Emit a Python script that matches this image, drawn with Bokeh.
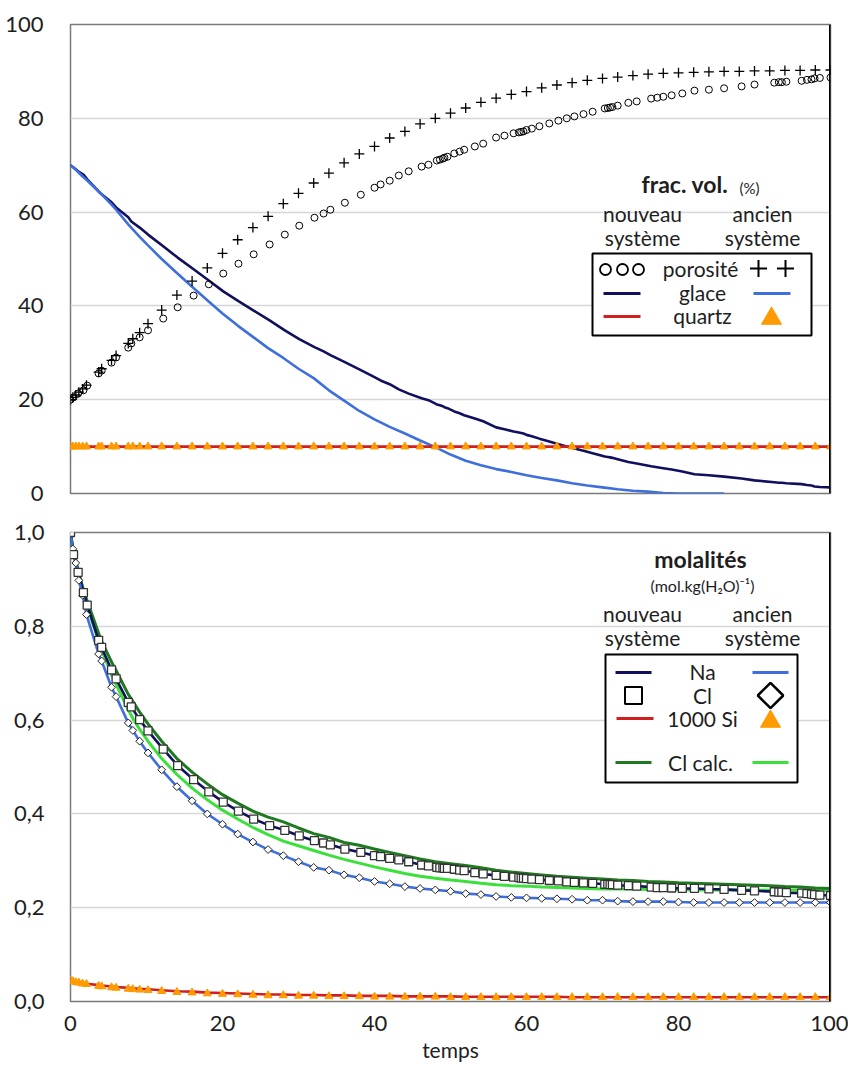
import math
from bokeh.plotting import figure
from bokeh.layouts import column
from bokeh.models import Label, Span, FixedTicker, Range1d
from bokeh.embed import file_html
from bokeh.resources import INLINE

FONT = "Lato"
NAN = float("nan")

# ---------------- data : top panel (volume fractions, %) ----------------
t_old = [0, 0.3, 0.7, 1.1, 1.6, 2.1, 3.7, 4.1, 5.4, 6.0, 7.6, 8.2, 9.1, 10.2,
         12, 14, 16, 18, 20, 22, 24, 26, 28, 30, 32, 34, 36, 38, 40, 42, 44, 46, 48, 50,
         52, 54, 56, 58, 60, 62, 64, 66, 68, 70, 72, 74, 76, 78, 80, 82, 84, 86, 88, 90,
         92, 94, 96, 98, 100]
porosite_old = [20.0, 20.5, 21.0, 21.6, 22.3, 23.1, 25.9, 26.6, 28.4, 29.4, 32.0, 33.0, 34.3, 36.2,
                39.1, 42.3, 45.3, 48.1, 51.2, 54.1, 56.7, 59.1, 61.8, 64.0, 66.2, 68.3, 70.5, 72.4,
                74.0, 75.8, 77.2, 78.8, 80.0, 81.1, 82.2, 83.4, 84.3, 85.1, 85.7, 86.5, 87.1, 87.6,
                88.1, 88.5, 88.8, 89.1, 89.4, 89.6, 89.7, 89.8, 89.9, 90.0, 90.0, 90.1, 90.1, 90.2,
                90.2, 90.3, 90.3]
glace_old = [70.0, 69.6, 69.0, 68.4, 67.6, 66.9, 64.4, 63.8, 61.6, 60.5, 57.4, 56.3, 54.7, 52.9,
             50.0, 47.0, 44.1, 41.2, 38.4, 35.8, 33.4, 31.0, 28.9, 26.6, 24.6, 22.0, 19.8, 17.6,
             15.8, 14.2, 12.8, 11.3, 9.9, 8.3, 7.0, 6.0, 5.2, 4.6, 3.9, 3.3, 2.8, 2.2,
             1.7, 1.3, 0.9, 0.6, 0.4, 0.1, 0.0, 0.0, 0.0, 0.0, NAN, NAN, NAN, NAN,
             NAN, NAN, NAN]
quartz_old = [10.0, 10.0, 10.0, 10.0, 10.0, 10.0, 10.0, 10.0, 10.0, 10.0, 10.0, 10.0, 10.0, 10.0,
              10.0, 10.0, 10.0, 10.0, 10.0, 10.0, 10.0, 10.0, 10.0, 10.0, 10.0, 10.0, 10.0, 10.0,
              10.0, 10.0, 10.0, 10.0, 10.0, 10.0, 10.0, 10.0, 10.0, 10.0, 10.0, 10.0, 10.0, 10.0,
              10.0, 10.0, 10.0, 10.0, 10.0, 10.0, 10.0, 10.0, 10.0, 10.0, 10.0, 10.0, 10.0, 10.0,
              10.0, 10.0, 10.0]

t_new = [0, 0.4, 1.0, 1.7, 2.2, 3.7, 4.1, 5.4, 6.0, 7.6,
         8.0, 9.1, 10.2, 12.2, 14.1, 16.2, 18.2, 20.1, 22.1, 24.1,
         26.2, 28.2, 30.1, 32.1, 33.3, 34.2, 36.1, 38.2, 40.0, 40.8,
         42.0, 43.2, 44.5, 46.2, 47.1, 48.2, 48.6, 49.0, 49.2, 49.6,
         50.5, 51.2, 51.8, 53.2, 54.3, 56.0, 57.1, 58.3, 59.0, 59.3,
         59.6, 60.0, 60.7, 61.7, 63.0, 64.2, 65.3, 66.3, 67.5, 68.7,
         70.3, 70.7, 71.0, 71.3, 72.0, 73.4, 74.5, 76.4, 77.2, 78.0,
         79.1, 80.5, 82.1, 84.0, 86.0, 88.3, 90.0, 92.6, 93.2, 93.6,
         94.2, 96.2, 96.9, 97.5, 97.9, 98.6, 100]
porosite_new = [20.0, 20.5, 21.3, 22.0, 23.0, 25.6, 26.2, 27.9, 29.0, 31.1,
                32.0, 33.3, 34.8, 37.3, 39.7, 42.2, 44.6, 46.9, 49.0, 51.0,
                53.1, 55.2, 57.1, 58.8, 59.7, 60.5, 62.0, 63.7, 65.2, 65.9,
                66.7, 67.8, 68.7, 69.7, 70.1, 71.0, 71.2, 71.4, 71.6, 71.8,
                72.5, 72.9, 73.3, 74.0, 74.6, 75.9, 76.3, 76.8, 77.0, 77.1,
                77.2, 77.5, 77.8, 78.3, 78.9, 79.5, 80.0, 80.4, 80.9, 81.4,
                82.1, 82.2, 82.3, 82.4, 82.7, 83.3, 83.6, 84.2, 84.4, 84.6,
                84.9, 85.3, 85.9, 86.1, 86.4, 86.8, 87.2, 87.6, 87.7, 87.7,
                87.8, 88.0, 88.2, 88.3, 88.5, 88.6, 88.7]
glace_new = [70.0, 69.5, 68.7, 68.0, 67.0, 64.4, 63.8, 62.1, 61.0, 58.9,
             58.0, 56.7, 55.2, 52.7, 50.3, 47.8, 45.4, 43.1, 41.0, 39.0,
             36.9, 34.8, 32.9, 31.2, 30.3, 29.5, 28.0, 26.3, 24.8, 24.1,
             23.3, 22.2, 21.3, 20.3, 19.9, 19.0, 18.8, 18.6, 18.4, 18.2,
             17.5, 17.1, 16.7, 16.0, 15.4, 14.1, 13.7, 13.2, 13.0, 12.9,
             12.8, 12.5, 12.2, 11.7, 11.1, 10.5, 10.0, 9.6, 9.1, 8.6,
             7.9, 7.8, 7.7, 7.6, 7.3, 6.7, 6.4, 5.8, 5.6, 5.4,
             5.1, 4.7, 4.1, 3.9, 3.6, 3.2, 2.8, 2.4, 2.3, 2.3,
             2.2, 2.0, 1.8, 1.7, 1.5, 1.4, 1.3]
t_quartz = [0, 100]
quartz_new = [10.0, 10.0]

# ---------------- data : bottom panel (molalities) ----------------
na_new = [1.000, 0.953, 0.915, 0.872, 0.845, 0.770, 0.755, 0.707, 0.688, 0.638,
          0.628, 0.601, 0.577, 0.538, 0.503, 0.473, 0.447, 0.425, 0.406, 0.389,
          0.375, 0.365, 0.353, 0.343, 0.338, 0.334, 0.325, 0.318, 0.311, 0.309,
          0.305, 0.302, 0.298, 0.291, 0.289, 0.286, 0.285, 0.285, 0.284, 0.284,
          0.282, 0.280, 0.279, 0.275, 0.272, 0.269, 0.267, 0.265, 0.264, 0.263,
          0.263, 0.262, 0.261, 0.260, 0.258, 0.257, 0.255, 0.254, 0.253, 0.252,
          0.250, 0.250, 0.249, 0.249, 0.248, 0.247, 0.246, 0.244, 0.243, 0.243,
          0.242, 0.241, 0.241, 0.240, 0.239, 0.237, 0.236, 0.234, 0.233, 0.233,
          0.232, 0.231, 0.230, 0.229, 0.228, 0.227, 0.226]
cl_new = na_new
clcalc_new = [1.000, 0.968, 0.940, 0.914, 0.884, 0.858, 0.785, 0.768, 0.724, 0.706, 0.655, 0.640, 0.617, 0.592,
              0.555, 0.518, 0.489, 0.464, 0.441, 0.423, 0.406, 0.393, 0.383, 0.370, 0.358, 0.350, 0.339, 0.333,
              0.325, 0.318, 0.311, 0.304, 0.298, 0.294, 0.290, 0.285, 0.280, 0.276, 0.273, 0.270, 0.267, 0.265,
              0.263, 0.261, 0.259, 0.258, 0.256, 0.255, 0.253, 0.252, 0.251, 0.250, 0.249, 0.248, 0.247, 0.245,
              0.244, 0.242, 0.241]
na_old = [1.000, 0.965, 0.935, 0.898, 0.866, 0.825, 0.741, 0.726, 0.670, 0.650, 0.594, 0.578, 0.555, 0.530,
          0.494, 0.458, 0.428, 0.400, 0.378, 0.357, 0.340, 0.324, 0.311, 0.298, 0.286, 0.280, 0.270, 0.264,
          0.256, 0.251, 0.245, 0.241, 0.238, 0.235, 0.230, 0.228, 0.224, 0.222, 0.221, 0.220, 0.219, 0.218,
          0.216, 0.216, 0.214, 0.213, 0.213, 0.213, 0.212, 0.211, 0.211, 0.211, 0.211, 0.211, 0.211, 0.211,
          0.211, 0.211, 0.211]
cl_old = na_old
clcalc_old = [1.000, 0.966, 0.936, 0.908, 0.876, 0.848, 0.768, 0.749, 0.697, 0.676, 0.622, 0.604, 0.580, 0.555,
              0.518, 0.484, 0.455, 0.430, 0.408, 0.389, 0.371, 0.356, 0.342, 0.332, 0.322, 0.312, 0.303, 0.295,
              0.287, 0.280, 0.273, 0.267, 0.263, 0.259, 0.256, 0.252, 0.249, 0.247, 0.246, 0.244, 0.243, 0.242,
              0.241, 0.240, 0.240, 0.240, 0.239, 0.239, 0.239, 0.238, 0.238, 0.238, 0.238, 0.238, 0.237, 0.237,
              0.237, 0.237, 0.237]
si_new = [0.046, 0.044, 0.042, 0.041, 0.040, 0.038, 0.035, 0.034, 0.032, 0.031, 0.029, 0.028, 0.027, 0.026,
          0.024, 0.022, 0.021, 0.019, 0.018, 0.017, 0.016, 0.015, 0.015, 0.014, 0.014, 0.013, 0.013, 0.012,
          0.012, 0.012, 0.011, 0.011, 0.011, 0.011, 0.010, 0.010, 0.010, 0.010, 0.010, 0.010, 0.010, 0.009,
          0.009, 0.009, 0.009, 0.009, 0.009, 0.009, 0.009, 0.009, 0.009, 0.009, 0.009, 0.009, 0.009, 0.009,
          0.009, 0.009, 0.009]
si_old = [0.045, 0.043, 0.041, 0.040, 0.038, 0.037, 0.033, 0.032, 0.030, 0.029, 0.027, 0.026, 0.025, 0.024,
          0.022, 0.020, 0.019, 0.017, 0.016, 0.015, 0.014, 0.013, 0.013, 0.012, 0.012, 0.011, 0.011, 0.011,
          0.010, 0.010, 0.010, 0.010, 0.010, 0.009, 0.009, 0.009, 0.009, 0.009, 0.009, 0.009, 0.009, 0.009,
          0.009, 0.009, 0.009, 0.009, 0.009, 0.009, 0.009, 0.009, 0.009, 0.009, 0.009, 0.009, 0.009, 0.009,
          0.009, 0.009, 0.009]

x_ticks = [0, 20, 40, 60, 80, 100]
y1_ticks = [0, 20, 40, 60, 80, 100]
y2_ticks = [0.0, 0.2, 0.4, 0.6, 0.8, 1.0]
y2_labels = ["0,0", "0,2", "0,4", "0,6", "0,8", "1,0"]

# ---------------- styles ----------------
NAVY = "#10105e"
BLUE = "#3f6fdc"
RED = "#d11f1f"
DKGREEN = "#1f7a1f"
LTGREEN = "#3ce03c"
ORANGE = "#ff9a00"
TXT = "#1e1e1e"

# frame geometry (pixels) used to place the hand-made legends
FX0, FPX = 70, 7.6
def X(px):
    return (px - FX0) / FPX
def Y1(py):
    return (493 - py) / 4.69
def Y2(py):
    return (1001 - py) / 469.0


def style(p, yticks, standoff):
    p.outline_line_color = "#7a7a7a"
    p.outline_line_width = 1.5
    p.xgrid.visible = False
    p.ygrid.grid_line_color = "#d6d6d6"
    p.ygrid.grid_line_width = 1.5
    p.yaxis.ticker = FixedTicker(ticks=yticks)
    for ax in p.axis:
        ax.axis_line_color = None
        ax.major_tick_line_color = None
        ax.minor_tick_line_color = None
        ax.major_label_text_font = FONT
        ax.major_label_text_font_size = "22px"
        ax.major_label_text_color = TXT
    p.yaxis.major_label_standoff = standoff
    p.add_layout(Span(location=100, dimension="height", line_color="black", line_width=3))


def lab(p, x, y, text, size=21, bold=False, align="center"):
    p.add_layout(Label(x=x, y=y, text=text, text_font=FONT, text_font_size=f"{size}px",
                       text_font_style="bold" if bold else "normal", text_align=align,
                       text_baseline="middle", text_color=TXT))


# ================= top figure =================
p1 = figure(width=848, height=512, x_range=Range1d(0, 100), y_range=Range1d(0, 100),
            output_backend="svg", toolbar_location=None,
            min_border_left=70, min_border_right=18, min_border_top=24, min_border_bottom=19)
p1.xaxis.visible = False
style(p1, y1_ticks, 21)

p1.line(t_new, glace_new, line_color=NAVY, line_width=2.6)
p1.line(t_old, glace_old, line_color=BLUE, line_width=2.6)
p1.line(t_quartz, quartz_new, line_color=RED, line_width=2.6)
p1.scatter(t_old, quartz_old, marker="triangle", size=8, fill_color=ORANGE, line_color=ORANGE)
p1.scatter(t_new, porosite_new, marker="circle", size=7, fill_color=None, line_color="black", line_width=1)
p1.scatter(t_old, porosite_old, marker="cross", size=10, line_color="black", line_width=1.3)

# legend (top)
lab(p1, X(641), Y1(183), "frac. vol.", 23, True, "left")
lab(p1, X(739), Y1(187), "(%)", 15, False, "left")
lab(p1, X(642), Y1(213), "nouveau")
lab(p1, X(642), Y1(237), "système")
lab(p1, X(762), Y1(213), "ancien")
lab(p1, X(762), Y1(237), "système")
p1.quad(left=X(592), right=X(811), top=Y1(253), bottom=Y1(335), fill_color="white",
        line_color="black", line_width=2)
p1.scatter([X(605), X(622), X(638)], [Y1(269)] * 3, marker="circle", size=11,
           fill_color=None, line_color="black", line_width=1.8)
p1.scatter([X(758), X(785)], [Y1(268)] * 2, marker="cross", size=17, line_color="black", line_width=2)
p1.segment(x0=[X(603)], y0=[Y1(293)], x1=[X(640)], y1=[Y1(293)], line_color=NAVY, line_width=3)
p1.segment(x0=[X(753)], y0=[Y1(293)], x1=[X(790)], y1=[Y1(293)], line_color=BLUE, line_width=3)
p1.segment(x0=[X(603)], y0=[Y1(316)], x1=[X(640)], y1=[Y1(316)], line_color=RED, line_width=3)
p1.scatter([X(771)], [Y1(318)], marker="triangle", size=20, fill_color=ORANGE, line_color=ORANGE)
lab(p1, X(700), Y1(268), "porosité")
lab(p1, X(702), Y1(292), "glace")
lab(p1, X(702), Y1(315), "quartz")

# ================= bottom figure =================
p2 = figure(width=848, height=554, x_range=Range1d(0, 100), y_range=Range1d(0, 1),
            output_backend="svg", toolbar_location=None,
            min_border_left=70, min_border_right=18, min_border_top=20, min_border_bottom=65)
style(p2, y2_ticks, 20)
p2.yaxis.major_label_overrides = dict(zip(y2_ticks, y2_labels))
p2.xaxis.ticker = FixedTicker(ticks=x_ticks)
p2.xaxis.major_label_standoff = 8
p2.xaxis.axis_label = "temps"
p2.xaxis.axis_label_text_font = FONT
p2.xaxis.axis_label_text_font_size = "21px"
p2.xaxis.axis_label_text_font_style = "normal"
p2.xaxis.axis_label_text_color = TXT
p2.xaxis.axis_label_standoff = 3

p2.line(t_old, clcalc_old, line_color=LTGREEN, line_width=3)
p2.line(t_old, clcalc_new, line_color=DKGREEN, line_width=3)
p2.line(t_new, na_new, line_color=NAVY, line_width=2.6)
p2.line(t_old, na_old, line_color=BLUE, line_width=2.6)
p2.scatter(t_old, cl_old, marker="square", angle=math.pi / 4, size=5.5,
           fill_color="white", line_color="#222222", line_width=1)
p2.scatter(t_new, cl_new, marker="square", size=8, fill_color="white", line_color="#333333", line_width=1.3)
p2.line(t_old, si_new, line_color=RED, line_width=2.6)
p2.scatter(t_old, si_old, marker="triangle", size=8, fill_color=ORANGE, line_color=ORANGE)

# legend (bottom)
lab(p2, X(700), Y2(558), "molalités", 23, True)
lab(p2, X(702), Y2(585), "(mol.kg(H₂O)⁻¹)", 16)
lab(p2, X(642), Y2(613), "nouveau")
lab(p2, X(642), Y2(637), "système")
lab(p2, X(762), Y2(613), "ancien")
lab(p2, X(762), Y2(637), "système")
p2.quad(left=X(605), right=X(797), top=Y2(654), bottom=Y2(782), fill_color="white",
        line_color="black", line_width=2)
p2.segment(x0=[X(615)], y0=[Y2(672)], x1=[X(651)], y1=[Y2(672)], line_color=NAVY, line_width=3)
p2.segment(x0=[X(752)], y0=[Y2(672)], x1=[X(788)], y1=[Y2(672)], line_color=BLUE, line_width=3)
p2.scatter([X(633)], [Y2(695)], marker="square", size=17, fill_color="white", line_color="black", line_width=2)
p2.scatter([X(770)], [Y2(695)], marker="square", angle=math.pi / 4, size=18,
           fill_color="white", line_color="black", line_width=2.5)
p2.segment(x0=[X(616)], y0=[Y2(718)], x1=[X(653)], y1=[Y2(718)], line_color=RED, line_width=3)
p2.scatter([X(770)], [Y2(721)], marker="triangle", size=20, fill_color=ORANGE, line_color=ORANGE)
p2.segment(x0=[X(615)], y0=[Y2(762)], x1=[X(651)], y1=[Y2(762)], line_color=DKGREEN, line_width=3)
p2.segment(x0=[X(752)], y0=[Y2(762)], x1=[X(788)], y1=[Y2(762)], line_color=LTGREEN, line_width=3)
lab(p2, X(702), Y2(671), "Na")
lab(p2, X(702), Y2(695), "Cl")
lab(p2, X(702), Y2(718), "1000 Si")
lab(p2, X(700), Y2(762), "Cl calc.")

layout = column(p1, p2, spacing=0)
open("out.html", "w").write(file_html(layout, INLINE))
